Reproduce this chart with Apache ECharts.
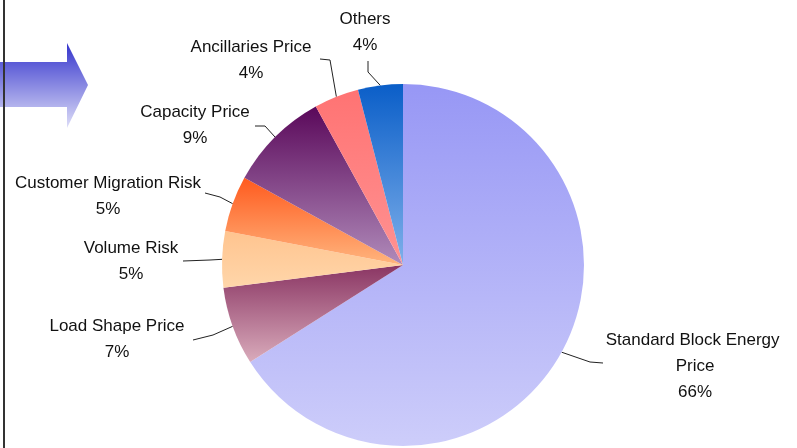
<!DOCTYPE html>
<html>
<head>
<meta charset="utf-8">
<script src="https://cdn.jsdelivr.net/npm/echarts@6/dist/echarts.min.js"></script>
<style>
html,body{margin:0;padding:0;background:#fff;}
#main{width:797px;height:448px;}
</style>
</head>
<body>
<div id="main"></div>
<script>
// ---- data ----
var categories = ['Standard Block Energy Price', 'Load Shape Price', 'Volume Risk', 'Customer Migration Risk', 'Capacity Price', 'Ancillaries Price', 'Others'];
var values = [66, 7, 5, 5, 9, 4, 4];

// ---- styles ----
var gradients = [
  ['#9797f5', '#cdcdfa'],
  ['#8a3563', '#d9abbb'],
  ['#ffc48f', '#ffd6aa'],
  ['#ff5a1e', '#ffb57e'],
  ['#5a085a', '#b08bba'],
  ['#ff7373', '#ff9292'],
  ['#0a5ec8', '#7fb0ea']
];
// label block centres and label line bends/ends
var labelPos = [
  [695, 366], [117, 339], [131, 261], [108, 196], [195, 125], [251, 60], [365, 32]
];
var lineMid = [
  [590, 362], [213, 335], [210, 260], [220, 197], [265, 126], [330, 60], [368, 72]
];
var lineEnd = [
  [603, 363], [193, 340], [183, 261], [205, 193], [255, 126], [320, 59], [368, 61]
];

var chart = echarts.init(document.getElementById('main'), null, {renderer: 'canvas'});

var data = categories.map(function (name, i) {
  var item = {
    name: name,
    value: values[i],
    itemStyle: {
      color: new echarts.graphic.LinearGradient(0, 0, 0, 1, [
        {offset: 0, color: gradients[i][0]},
        {offset: 1, color: gradients[i][1]}
      ])
    }
  };
  if (i === 0) {
    item.label = {width: 195, overflow: 'break'};
  }
  return item;
});

var option = {
  backgroundColor: '#ffffff',
  animation: false,
  graphic: [
    {
      type: 'polygon',
      shape: {points: [[0, 62], [67, 62], [67, 43], [88, 85], [67, 128], [67, 107], [0, 107]]},
      style: {
        fill: new echarts.graphic.LinearGradient(0, 0, 0, 1, [
          {offset: 0, color: '#3434cc'},
          {offset: 1, color: '#dedef8'}
        ])
      },
      z: 5
    },
    {
      type: 'line',
      shape: {x1: 4, y1: 0, x2: 4, y2: 448},
      style: {stroke: '#333', lineWidth: 2},
      z: 6
    }
  ],
  series: [{
    type: 'pie',
    center: [403, 265],
    radius: 181,
    startAngle: 90,
    clockwise: true,
    avoidLabelOverlap: false,
    data: data,
    label: {
      show: true,
      position: 'outside',
      formatter: function (p) { return p.name + '\n' + Math.round(p.percent) + '%'; },
      fontFamily: 'Liberation Sans, Arial, sans-serif',
      fontSize: 17,
      lineHeight: 26,
      color: '#111',
      align: 'center'
    },
    labelLine: {
      show: true,
      length: 10,
      length2: 10,
      lineStyle: {color: '#222', width: 1}
    },
    labelLayout: function (params) {
      var i = params.dataIndex;
      var start = params.labelLinePoints ? params.labelLinePoints[0] : lineMid[i];
      return {
        x: labelPos[i][0],
        y: labelPos[i][1],
        align: 'center',
        verticalAlign: 'middle',
        labelLinePoints: [start, lineMid[i], lineEnd[i]]
      };
    },
    emphasis: {disabled: true}
  }]
};
chart.setOption(option);
</script>
</body>
</html>
